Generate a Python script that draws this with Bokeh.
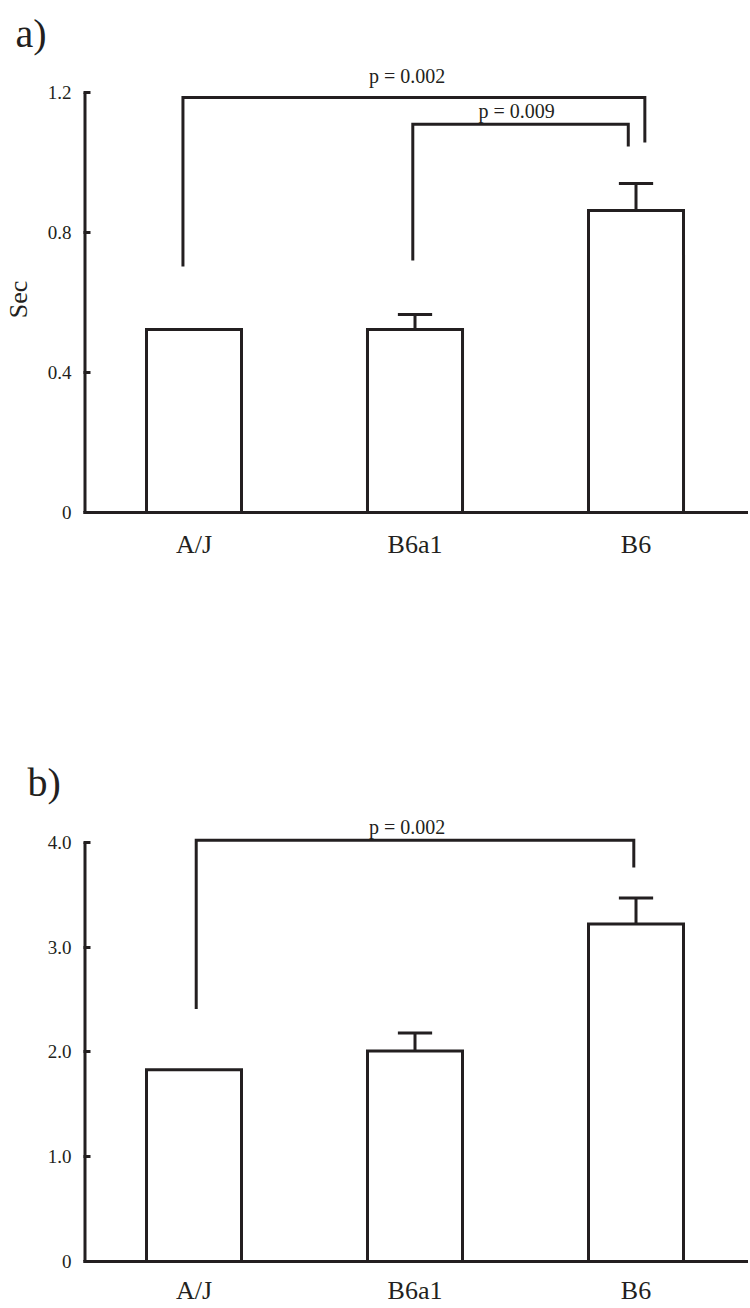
from bokeh.plotting import figure
from bokeh.models import Range1d, FixedTicker, CustomJSTickFormatter, Label
from bokeh.layouts import column
from bokeh.embed import file_html
from bokeh.resources import INLINE

categories = ["A/J", "B6a1", "B6"]

# Panel a (Sec)
a_values = [0.523, 0.523, 0.863]
a_err_top = [0.523, 0.566, 0.940]
a_ticks = [0, 0.4, 0.8, 1.2]
a_br_left = [-0.05, 0.99]
a_br_right = [2.04, 1.965]
a_br_top = [1.186, 1.109]
a_br_left_end = [0.703, 0.720]
a_br_right_end = [1.057, 1.046]
a_br_text = ["p = 0.002", "p = 0.009"]
a_br_text_x = [0.964, 1.46]
a_br_text_y = [1.246, 1.146]

# Panel b
b_values = [1.83, 2.01, 3.22]
b_err_top = [1.83, 2.18, 3.47]
b_ticks = [0, 1, 2, 3, 4]
b_br_left = [0.01]
b_br_right = [1.99]
b_br_top = [4.02]
b_br_left_end = [2.41]
b_br_right_end = [3.76]
b_br_text = ["p = 0.002"]
b_br_text_x = [0.964]
b_br_text_y = [4.15]

INK = "#231f20"
SERIF = "Liberation Serif"
LW = 3
BAR_W = 0.43
CAP_W = 0.155
X0, X1 = -0.5, 2.509


def make_panel(values, err_top, ticks, ymax, br_left, br_right, br_top, br_lend, br_rend,
               br_text, br_tx, br_ty, tag, tag_offset, tag_standoff, ylabel, cat_standoff,
               height, border_top, border_bottom):
    p = figure(width=748, height=height, output_backend="svg", toolbar_location=None,
               x_range=Range1d(X0, X1), y_range=Range1d(0, ymax),
               min_border_left=83, min_border_right=0, min_border_top=border_top,
               min_border_bottom=border_bottom)
    p.outline_line_color = None
    p.xgrid.visible = False
    p.ygrid.visible = False
    p.background_fill_color = "white"
    p.border_fill_color = "white"

    p.title.text = tag
    p.title.align = "left"
    p.title.offset = tag_offset
    p.title.standoff = tag_standoff
    p.title.text_font = SERIF
    p.title.text_font_size = "40px"
    p.title.text_font_style = "normal"
    p.title.text_color = INK

    xs = list(range(len(categories)))
    p.vbar(x=xs, top=values, width=BAR_W, bottom=0, fill_color="white",
           line_color=INK, line_width=LW, line_join="miter")

    ex = [x for x, v, e in zip(xs, values, err_top) if e > v]
    ev = [v for v, e in zip(values, err_top) if e > v]
    ee = [e for v, e in zip(values, err_top) if e > v]
    p.segment(x0=ex, y0=ev, x1=ex, y1=ee, line_color=INK, line_width=LW)
    p.segment(x0=[x - CAP_W / 2 for x in ex], y0=ee, x1=[x + CAP_W / 2 for x in ex], y1=ee,
              line_color=INK, line_width=LW)

    mxs = [[l, l, r, r] for l, r in zip(br_left, br_right)]
    mys = [[le, t, t, re] for le, t, re in zip(br_lend, br_top, br_rend)]
    p.multi_line(xs=mxs, ys=mys, line_color=INK, line_width=LW, line_join="miter")

    for t, tx, ty in zip(br_text, br_tx, br_ty):
        p.add_layout(Label(x=tx, y=ty, text=t, text_font=SERIF, text_font_size="20px",
                           text_color=INK, text_align="center", text_baseline="alphabetic"))

    # visible y-axis line from 0 to the top tick only (half is clipped by the frame edge)
    p.segment(x0=[X0], y0=[0], x1=[X0], y1=[ticks[-1]], line_color=INK, line_width=2 * LW)

    xa = p.xaxis[0]
    xa.ticker = FixedTicker(ticks=xs)
    xa.major_label_overrides = {i: c for i, c in enumerate(categories)}
    xa.major_tick_in = 0
    xa.major_tick_out = 0
    xa.minor_tick_in = 0
    xa.minor_tick_out = 0
    xa.axis_line_width = LW
    xa.axis_line_color = INK
    xa.major_label_text_font = SERIF
    xa.major_label_text_font_size = "26px"
    xa.major_label_text_color = INK
    xa.major_label_standoff = cat_standoff

    ya = p.yaxis[0]
    ya.ticker = FixedTicker(ticks=ticks, minor_ticks=[])
    ya.formatter = CustomJSTickFormatter(code='return tick == 0 ? "0" : tick.toFixed(1);')
    ya.major_tick_in = 7
    ya.major_tick_out = 0
    ya.major_tick_line_width = LW
    ya.major_tick_line_color = INK
    ya.axis_line_color = None
    ya.major_label_text_font = SERIF
    ya.major_label_text_font_size = "19px"
    ya.major_label_text_color = INK
    ya.major_label_standoff = 12
    if ylabel:
        ya.axis_label = ylabel
        ya.axis_label_text_font = SERIF
        ya.axis_label_text_font_style = "normal"
        ya.axis_label_text_font_size = "26px"
        ya.axis_label_text_color = INK
        ya.axis_label_standoff = 12
    return p


pa = make_panel(a_values, a_err_top, a_ticks, 1.2914, a_br_left, a_br_right, a_br_top,
                a_br_left_end, a_br_right_end, a_br_text, a_br_text_x, a_br_text_y,
                "a)", -68, 10, "Sec\u00a0\u00a0\u00a0\u00a0", 17, 698, 60, 186)
pb = make_panel(b_values, b_err_top, b_ticks, 4.285, b_br_left, b_br_right, b_br_top,
                b_br_left_end, b_br_right_end, b_br_text, b_br_text_x, b_br_text_y,
                "b)", -56, 16, None, 14, 610, 114, 47)

layout = column(pa, pb, spacing=0)
open("out.html", "w").write(file_html(layout, INLINE))
